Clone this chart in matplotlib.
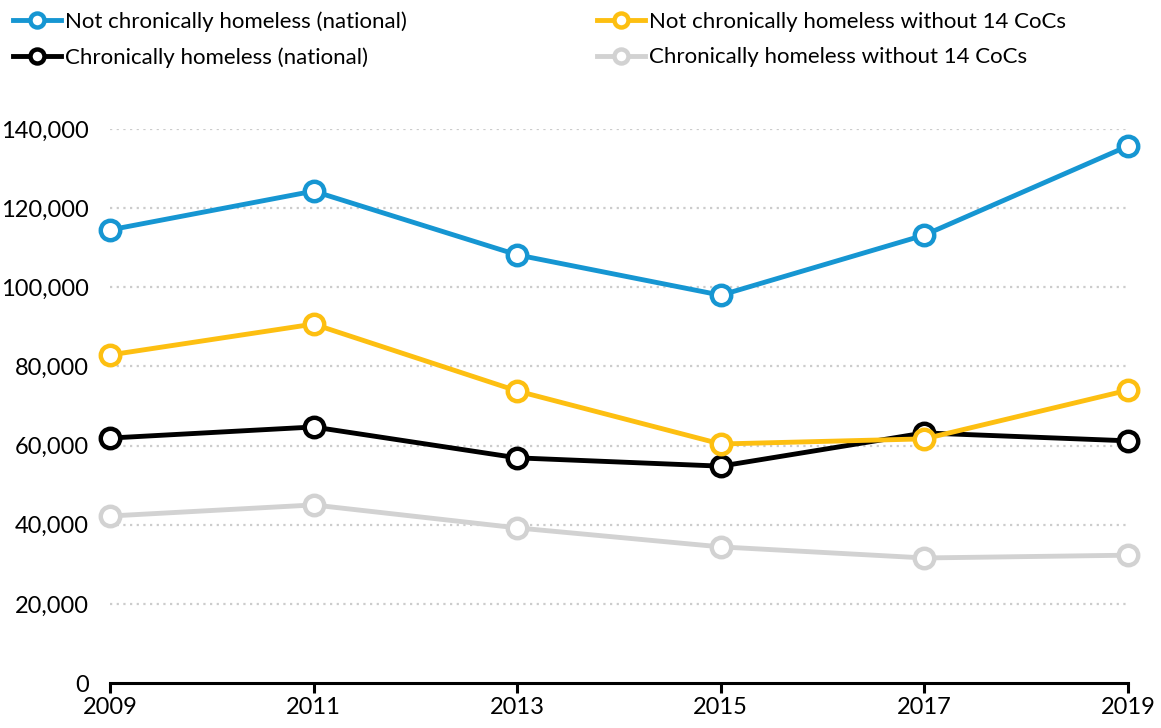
import matplotlib
matplotlib.use('Agg')
import matplotlib.pyplot as plt
from matplotlib.ticker import FuncFormatter

plt.rcParams['font.family'] = ['Lato', 'DejaVu Sans']

# point-in-time counts by year
years = [2009, 2011, 2013, 2015, 2017, 2019]
not_chronic_national = [114500, 124300, 108200, 98000, 113200, 135700]
not_chronic_without = [82900, 90700, 73800, 60400, 61700, 74000]
chronic_national = [61900, 64700, 56900, 54800, 63200, 61200]
chronic_without = [42200, 45000, 39200, 34400, 31600, 32300]

series = [
    ("Not chronically homeless (national)", not_chronic_national, "#1696d2"),
    ("Chronically homeless (national)", chronic_national, "#000000"),
    ("Not chronically homeless without 14 CoCs", not_chronic_without, "#fdbf11"),
    ("Chronically homeless without 14 CoCs", chronic_without, "#d2d2d2"),
]

fig = plt.figure(figsize=(11.61, 7.28), dpi=100)
ax = fig.add_axes([0.0947, 0.0618, 0.8769, 0.761])

# gray first so the darker lines sit on top
draw_order = [3, 2, 0, 1]
handles = {}
for i in draw_order:
    label, vals, col = series[i]
    h, = ax.plot(years, vals, color=col, lw=3.5, marker='o', markersize=14,
                 markerfacecolor='white', markeredgecolor=col, markeredgewidth=3.2,
                 clip_on=False, zorder=3 + i, label=label)
    handles[i] = h

ax.set_xlim(2009, 2019)
ax.set_ylim(0, 140000)
ax.set_xticks(years)
ax.set_yticks(range(0, 140001, 20000))
ax.yaxis.set_major_formatter(FuncFormatter(lambda v, p: f"{int(v):,}"))

for s in ['top', 'right', 'left']:
    ax.spines[s].set_visible(False)
ax.spines['bottom'].set_linewidth(2.2)
ax.tick_params(axis='x', length=7, width=2.2, labelsize=17, pad=3)
ax.tick_params(axis='y', length=0, labelsize=17, pad=15)

for v in range(20000, 140001, 20000):
    ax.axhline(v, color='#cccccc', lw=1.6, ls=(0, (1, 2)), zorder=1)

leg = fig.legend([handles[i] for i in range(4)], [s[0] for s in series],
                 ncol=2, loc='upper left', bbox_to_anchor=(-0.006, 1.012),
                 frameon=False, fontsize=16, handlelength=2.15, handletextpad=0.2,
                 columnspacing=8.55, labelspacing=0.7, markerscale=0.72)

fig.savefig('out.png', dpi=100)
